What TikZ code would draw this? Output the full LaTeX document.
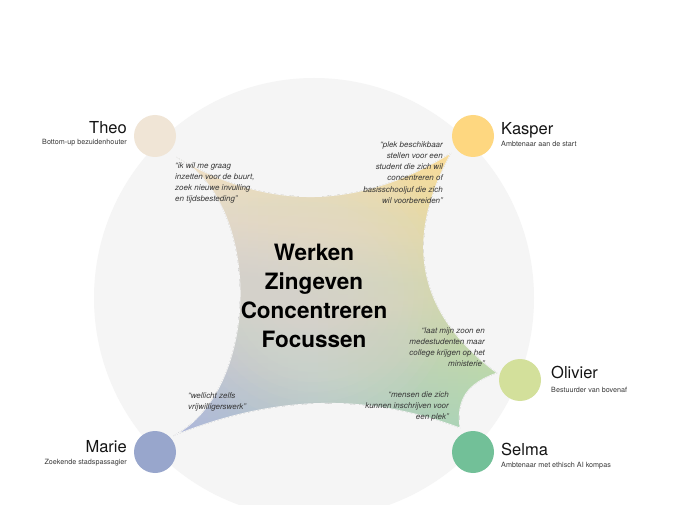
\documentclass[tikz,border=0pt]{standalone}
\usepackage{fontspec}
\setmainfont{TeX Gyre Heros}
\definecolor{bgc}{HTML}{F5F5F5}
\definecolor{ctheo}{HTML}{F0E5D6}
\definecolor{ckasper}{HTML}{FED780}
\definecolor{colivier}{HTML}{D3E09B}
\definecolor{cselma}{HTML}{72C098}
\definecolor{cmarie}{HTML}{98A6CC}
\definecolor{gtl}{HTML}{F3E3C8}
\definecolor{gbl}{HTML}{ABB4DC}
\definecolor{gtr}{HTML}{FDDA8E}
\definecolor{gbr}{HTML}{A6D8B2}
\definecolor{gmid}{HTML}{E2DFD8}
\definecolor{txt}{HTML}{151515}
\definecolor{qtxt}{HTML}{383838}
\def\starpath{(176,157) .. controls (269,211) and (358,210) .. (451,153)
        .. controls (403,242) and (418,314) .. (497,373)
        .. controls (468,383) and (456,399) .. (460,428)
        .. controls (364,392) and (271,396) .. (173,436)
        .. controls (262,390) and (262,200) .. cycle}
\begin{document}
\begin{tikzpicture}[x=1pt,y=-1pt,
  person/.style={circle, minimum size=42pt, inner sep=0pt, draw=none},
  pname/.style={inner sep=0pt, text=txt, font=\fontsize{16.5}{18}\selectfont},
  psub/.style={inner sep=0pt, text=txt!85, font=\fontsize{7.2}{8}\selectfont},
  quote/.style={inner sep=0pt, text=qtxt, font=\fontsize{8}{11.3}\selectfont\itshape},
  center/.style={inner sep=0pt, text=black, align=center, font=\fontsize{22.5}{29}\selectfont\bfseries}]
\useasboundingbox (0,0) rectangle (699,505);
\fill[white] (0,0) rectangle (699,505);
\begin{scope}
  \clip (0,0) rectangle (699,505);
  \fill[bgc] (314,298) circle (220);
\end{scope}
% star
\begin{scope}
  \clip \starpath;
  \foreach \i in {0,...,33}{
    \pgfmathtruncatemacro\p{round((\i+0.5)/34*100)}
    \colorlet{stop}{gtr!\p!gtl}
    \colorlet{sbot}{gbr!\p!gbl}
    \pgfmathsetmacro\xa{168+\i*10}
    \fill[top color=stop, bottom color=sbot] (\xa,145) rectangle (\xa+10.6,445);
  }
  \foreach \r in {40,50,...,140}{
    \fill[gmid, fill opacity=0.07] (314,292) circle (\r);
  }
\end{scope}
\draw[bgc, line width=0.8pt, line join=miter] \starpath;
% persons
\node[person, fill=ctheo] (theo) at (155,136) {};
\node[person, fill=ckasper] (kasper) at (473,136) {};
\node[person, fill=colivier] (olivier) at (520,380) {};
\node[person, fill=cselma] (selma) at (473,452) {};
\node[person, fill=cmarie] (marie) at (155,452) {};
% names
\node[pname, anchor=base east] (theoname) at (127,134) {Theo};
\node[psub, anchor=base east] (theosub) at (127,145) {Bottom-up bezuidenhouter};
\node[pname, anchor=base west] (kaspername) at (501,135) {Kasper};
\node[psub, anchor=base west] (kaspersub) at (501,147) {Ambtenaar aan de start};
\node[pname, anchor=base west] (oliviername) at (551,378) {Olivier};
\node[psub, anchor=base west] (oliviersub) at (551,392) {Bestuurder van bovenaf};
\node[pname, anchor=base east] (mariename) at (127,452) {Marie};
\node[psub, anchor=base east] (mariesub) at (127,464) {Zoekende stadspassagier};
\node[pname, anchor=base west] (selmaname) at (501,455) {Selma};
\node[psub, anchor=base west] (selmasub) at (501,467) {Ambtenaar met ethisch AI kompas};
% quotes
\node[quote, anchor=north west, align=left] (theoq) at (175,162)
  {“ik wil me graag\\inzetten voor de buurt,\\zoek nieuwe invulling\\en tijdsbesteding”};
\node[quote, anchor=north east, align=right] (kasperq) at (443,141)
  {“plek beschikbaar\\stellen voor een\\student die zich wil\\concentreren of\\basisschooljuf die zich\\wil voorbereiden”};
\node[quote, anchor=north east, align=right] (olivierq) at (485,327)
  {“laat mijn zoon en\\medestudenten maar\\college krijgen op het\\ministerie”};
\node[quote, anchor=north east, align=right] (selmaq) at (449,391)
  {“mensen die zich\\kunnen inschrijven voor\\een plek”};
\node[quote, anchor=north west, align=left] (marieq) at (188,392)
  {“wellicht zelfs\\vrijwilligerswerk”};
% center
\node[center] (core) at (314,296) {Werken\\Zingeven\\Concentreren\\Focussen};
\end{tikzpicture}
\end{document}
